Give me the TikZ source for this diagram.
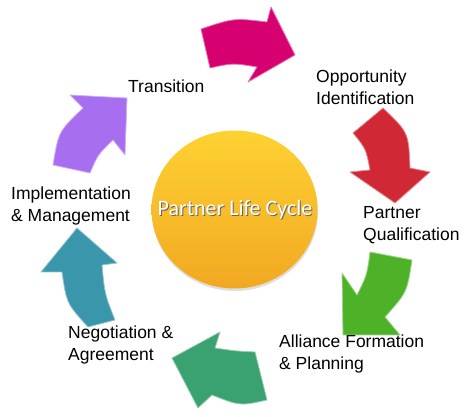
\documentclass[tikz,border=0pt]{standalone}
\usepackage{fontspec}
\setmainfont{Liberation Sans}
\newfontfamily\carlito{Carlito}
\usetikzlibrary{positioning,calc}
\definecolor{magentaarr}{RGB}{214,0,112}
\definecolor{redarr}{RGB}{208,40,52}
\definecolor{greenarr}{RGB}{78,178,40}
\definecolor{seaarr}{RGB}{58,162,112}
\definecolor{tealarr}{RGB}{58,150,170}
\definecolor{purplearr}{RGB}{168,110,240}
\definecolor{sunlight}{RGB}{253,210,50}
\definecolor{sundark}{RGB}{242,168,34}
\tikzset{
  lbl/.style={align=left, anchor=base west, inner sep=0pt, font=\fontsize{17.5}{21.5}\selectfont},
  cyc/.style={fill=#1, draw=#1!55!white, line width=0.8pt, line join=round},
}

\begin{document}
\begin{tikzpicture}[x=1pt,y=-1pt]
\useasboundingbox (0,0) rectangle (464,417);
% hub
\fill[gray!25] (235,212) ellipse (83 and 79);
\shade[top color=sunlight, bottom color=sundark] (234.5,209.5) ellipse (83 and 79);
\node[text=black!60, font=\carlito\fontsize{22}{26}\selectfont] (hubshadow) at (236,211) {Partner Life Cycle};
\node[text=white, font=\carlito\fontsize{22}{26}\selectfont] (hub) at (235,210) {Partner Life Cycle};
% arrows
\path[cyc=magentaarr] (201,29) .. controls (234,18) .. (267,22) -- (271,7) -- (295,55) -- (248,82) -- (257,67) .. controls (233,63) .. (210,68) -- cycle;
\path[cyc=redarr] (383,108) .. controls (408.6,132.5) .. (410,168) -- (430,172) -- (395,203) -- (350,172) -- (370,170) .. controls (366,149) .. (353,133) -- cycle;
\path[cyc=greenarr] (412,260) .. controls (407,292.5) .. (385,317) -- (400,335) -- (343,335) -- (342,273) -- (357,295) .. controls (367,275) .. (370,252) -- cycle;
\path[cyc=seaarr] (267,400) .. controls (240,406) .. (212,395) -- (198,408) -- (172,358) -- (220,332) -- (215,348) .. controls (235,351) .. (255,352) -- cycle;
\path[cyc=tealarr] (88,327) .. controls (66.6,303.5) .. (62,272) -- (41,272) -- (77,228) -- (117,263) -- (102,265) .. controls (104.7,294) .. (115,320) -- cycle;
\path[cyc=purplearr] (53,165) .. controls (58.5,131.5) .. (83,108) -- (70,95) -- (127,98) -- (125,155) -- (113,140) .. controls (98,154.6) .. (90,173) -- cycle;
% labels
\node[lbl] (transition) at (128,93) {Transition};
\node[lbl] (opportunity) at (316,104.5) {Opportunity\\Identification};
\node[lbl] (qualification) at (363,240.5) {Partner\\Qualification};
\node[lbl] (alliance) at (279,369.5) {Alliance Formation\\\& Planning};
\node[lbl] (negotiation) at (68,360.5) {Negotiation \&\\Agreement};
\node[lbl] (implementation) at (11,221.5) {Implementation\\\& Management};
\end{tikzpicture}
\end{document}
